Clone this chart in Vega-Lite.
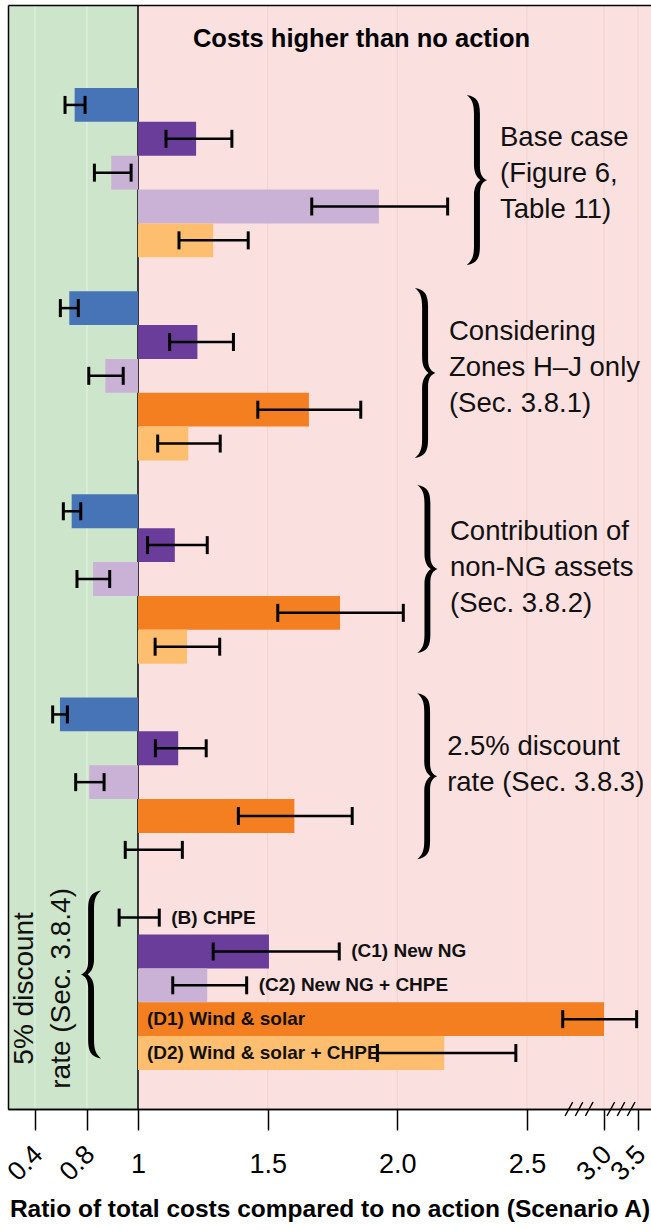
{
  "$schema": "https://vega.github.io/schema/vega-lite/v6.json",
  "width": 643,
  "height": 1104,
  "autosize": {"type": "none"},
  "padding": {"left": 8, "top": 5, "right": 0, "bottom": 121},
  "background": "white",
  "config": {"view": {"stroke": null}, "font": "Liberation Sans"},
  "title": {"text": "Costs higher than no action", "frame": "group", "anchor": "middle", "dx": 32, "offset": -48, "font": "Liberation Sans", "fontSize": 25.5, "fontWeight": "bold", "color": "black"},
  "datasets": {
    "zones": [{"zone": "lower", "from": 0.1923, "to": 1}, {"zone": "higher", "from": 1, "to": 3.691}],
    "gridlines": [{"v": 0.4}, {"v": 0.8}, {"v": 1.5}, {"v": 2.0}, {"v": 2.5}, {"v": 3.0}, {"v": 3.5}],
    "breaks": [{"v": 2.838}, {"v": 3.25}],
    "bars": [
      {"group": "base", "item": "B", "row": "base-B", "value": 0.705, "lo": 0.631, "hi": 0.785},
      {"group": "base", "item": "C1", "row": "base-C1", "value": 1.224, "lo": 1.108, "hi": 1.362},
      {"group": "base", "item": "C2", "row": "base-C2", "value": 0.895, "lo": 0.829, "hi": 0.973},
      {"group": "base", "item": "D1", "row": "base-D1", "value": 1.929, "lo": 1.670, "hi": 2.194},
      {"group": "base", "item": "D2", "row": "base-D2", "value": 1.290, "lo": 1.158, "hi": 1.425},
      {"group": "hj", "item": "B", "row": "hj-B", "value": 0.664, "lo": 0.595, "hi": 0.733},
      {"group": "hj", "item": "C1", "row": "hj-C1", "value": 1.229, "lo": 1.122, "hi": 1.368},
      {"group": "hj", "item": "C2", "row": "hj-C2", "value": 0.872, "lo": 0.807, "hi": 0.942},
      {"group": "hj", "item": "D1", "row": "hj-D1", "value": 1.659, "lo": 1.462, "hi": 1.859},
      {"group": "hj", "item": "D2", "row": "hj-D2", "value": 1.194, "lo": 1.076, "hi": 1.317},
      {"group": "nng", "item": "B", "row": "nng-B", "value": 0.682, "lo": 0.618, "hi": 0.752},
      {"group": "nng", "item": "C1", "row": "nng-C1", "value": 1.142, "lo": 1.037, "hi": 1.267},
      {"group": "nng", "item": "C2", "row": "nng-C2", "value": 0.824, "lo": 0.723, "hi": 0.889},
      {"group": "nng", "item": "D1", "row": "nng-D1", "value": 1.779, "lo": 1.539, "hi": 2.023},
      {"group": "nng", "item": "D2", "row": "nng-D2", "value": 1.189, "lo": 1.066, "hi": 1.315},
      {"group": "d25", "item": "B", "row": "d25-B", "value": 0.592, "lo": 0.536, "hi": 0.649},
      {"group": "d25", "item": "C1", "row": "d25-C1", "value": 1.155, "lo": 1.067, "hi": 1.263},
      {"group": "d25", "item": "C2", "row": "d25-C2", "value": 0.809, "lo": 0.713, "hi": 0.867},
      {"group": "d25", "item": "D1", "row": "d25-D1", "value": 1.603, "lo": 1.387, "hi": 1.826},
      {"group": "d25", "item": "D2", "row": "d25-D2", "value": null, "lo": 0.950, "hi": 1.171},
      {"group": "d5", "item": "B", "row": "d5-B", "value": null, "lo": 0.926, "hi": 1.082, "label": "(B) CHPE"},
      {"group": "d5", "item": "C1", "row": "d5-C1", "value": 1.505, "lo": 1.290, "hi": 1.776, "label": "(C1) New NG"},
      {"group": "d5", "item": "C2", "row": "d5-C2", "value": 1.267, "lo": 1.134, "hi": 1.419, "label": "(C2) New NG + CHPE"},
      {"group": "d5", "item": "D1", "row": "d5-D1", "value": 3.0, "lo": 2.732, "hi": 3.48, "label": "(D1) Wind & solar"},
      {"group": "d5", "item": "D2", "row": "d5-D2", "value": 2.181, "lo": 1.923, "hi": 2.457, "label": "(D2) Wind & solar + CHPE"}
    ],
    "notes": [
      {"group": "base", "row": "base-C2", "text": "Base case\n(Figure 6,\nTable 11)"},
      {"group": "hj", "row": "hj-C2", "text": "Considering\nZones H–J only\n(Sec. 3.8.1)"},
      {"group": "nng", "row": "nng-C2", "text": "Contribution of\nnon-NG assets\n(Sec. 3.8.2)"},
      {"group": "d25", "row": "d25-C2", "text": "2.5% discount\nrate (Sec. 3.8.3)"},
      {"group": "d5", "row": "d5-C2", "text": "5% discount\nrate (Sec. 3.8.4)"}
    ]
  },
  "resolve": {"axis": {"x": "independent"}},
  "layer": [
    {
      "data": {"name": "zones"},
      "mark": {"type": "rect"},
      "encoding": {
        "x": {"field": "from", "type": "quantitative",
          "scale": {"type": "linear", "domain": [0.1923, 0.8, 1, 2.5, 3, 3.691], "range": [0, 79, 130, 519, 596, 643], "nice": false, "zero": false},
          "axis": {"orient": "bottom", "zindex": 1, "values": [1, 1.5, 2, 2.5], "labelExpr": "datum.value == 1 ? '1' : format(datum.value, '.1f')", "labelAngle": 0, "labelBaseline": "top", "labelPadding": 21, "labelFont": "Liberation Sans", "labelFontSize": 27, "labelColor": "black", "labelFlush": false, "labelOverlap": false, "labelBound": false, "grid": false, "domainColor": "black", "domainWidth": 1.5, "tickColor": "black", "tickWidth": 1.5, "tickSize": 21, "title": "Ratio of total costs compared to no action (Scenario A)", "titleFont": "Liberation Sans", "titleFontSize": 24.5, "titleFontWeight": "bold", "titleColor": "black", "titlePadding": 20}},
        "x2": {"field": "to"},
        "fill": {"field": "zone", "type": "nominal", "scale": {"domain": ["lower", "higher"], "range": ["#cde5ca", "#fbe0e0"]}, "legend": null}
      }
    },
    {
      "data": {"name": "gridlines"},
      "mark": {"type": "rule", "strokeWidth": 1},
      "encoding": {
        "x": {"field": "v", "type": "quantitative",
          "scale": {"type": "linear", "domain": [0.1923, 0.8, 1, 2.5, 3, 3.691], "range": [0, 79, 130, 519, 596, 643], "nice": false, "zero": false},
          "axis": {"orient": "bottom", "zindex": 1, "values": [0.4, 0.8, 3, 3.5], "labelExpr": "format(datum.value, '.1f')", "labelAngle": -45, "labelAlign": "center", "labelBaseline": "middle", "labelPadding": 33, "labelOffset": -10, "labelFont": "Liberation Sans", "labelFontSize": 26.5, "labelColor": "black", "labelFlush": false, "labelOverlap": false, "labelBound": false, "grid": false, "domainColor": "black", "domainWidth": 1.5, "tickColor": "black", "tickWidth": 1.5, "tickSize": 21, "title": null}},
        "color": {"condition": {"test": "datum.v < 1", "value": "#e6f1e4"}, "value": "#f0d3ce"}
      }
    },
    {
      "data": {"values": [{}]},
      "mark": {"type": "rule", "color": "black", "strokeWidth": 1.5},
      "encoding": {
        "x": {"datum": 1, "type": "quantitative",
          "scale": {"type": "linear", "domain": [0.1923, 0.8, 1, 2.5, 3, 3.691], "range": [0, 79, 130, 519, 596, 643], "nice": false, "zero": false},
          "axis": {"orient": "top", "zindex": 1, "labels": false, "ticks": false, "grid": false, "domainColor": "black", "domainWidth": 1.5, "title": null}}
      }
    },
    {
      "data": {"name": "bars"},
      "encoding": {
        "y": {"field": "row", "type": "nominal", "title": null,
          "scale": {"type": "band", "domain": ["top1", "top2", "base-B", "base-C1", "base-C2", "base-D1", "base-D2", "gap1", "hj-B", "hj-C1", "hj-C2", "hj-D1", "hj-D2", "gap2", "nng-B", "nng-C1", "nng-C2", "nng-D1", "nng-D2", "gap3", "d25-B", "d25-C1", "d25-C2", "d25-D1", "d25-D2", "gap4", "d5-B", "d5-C1", "d5-C2", "d5-D1", "d5-D2", "bot1"], "paddingInner": 0, "paddingOuter": 0.302, "align": 0.747},
          "axis": {"zindex": 1, "labels": false, "ticks": false, "grid": false, "domainColor": "black", "domainWidth": 1.5, "title": null}}
      },
      "layer": [
        {
          "mark": {"type": "bar"},
          "encoding": {
            "x": {"field": "value", "type": "quantitative",
              "scale": {"type": "linear", "domain": [0.1923, 0.8, 1, 2.5, 3, 3.691], "range": [0, 79, 130, 519, 596, 643], "nice": false, "zero": false}, "axis": null},
            "x2": {"datum": 1},
            "color": {"condition": {"test": "datum.row === 'base-D1'", "value": "#cab2d6"}, "field": "item", "type": "nominal", "scale": {"domain": ["B", "C1", "C2", "D1", "D2"], "range": ["#4674b6", "#6a3d9a", "#cab2d6", "#f47f20", "#fdbf6f"]}, "legend": null}
          }
        },
        {
          "mark": {"type": "rule", "color": "black", "strokeWidth": 2.5},
          "encoding": {
            "x": {"field": "lo", "type": "quantitative",
              "scale": {"type": "linear", "domain": [0.1923, 0.8, 1, 2.5, 3, 3.691], "range": [0, 79, 130, 519, 596, 643], "nice": false, "zero": false}, "axis": null},
            "x2": {"field": "hi"}
          }
        },
        {
          "mark": {"type": "tick", "color": "black", "thickness": 3, "size": 18, "opacity": 1},
          "encoding": {
            "x": {"field": "lo", "type": "quantitative",
              "scale": {"type": "linear", "domain": [0.1923, 0.8, 1, 2.5, 3, 3.691], "range": [0, 79, 130, 519, 596, 643], "nice": false, "zero": false}, "axis": null}
          }
        },
        {
          "mark": {"type": "tick", "color": "black", "thickness": 3, "size": 18, "opacity": 1},
          "encoding": {
            "x": {"field": "hi", "type": "quantitative",
              "scale": {"type": "linear", "domain": [0.1923, 0.8, 1, 2.5, 3, 3.691], "range": [0, 79, 130, 519, 596, 643], "nice": false, "zero": false}, "axis": null}
          }
        },
        {
          "transform": [{"filter": "datum.group === 'd5' && (datum.item === 'B' || datum.item === 'C1' || datum.item === 'C2')"}],
          "mark": {"type": "text", "align": "left", "baseline": "middle", "dx": 12, "font": "Liberation Sans", "fontSize": 19, "letterSpacing": -0.5, "fontWeight": "bold", "color": "#111111"},
          "encoding": {
            "x": {"field": "hi", "type": "quantitative",
              "scale": {"type": "linear", "domain": [0.1923, 0.8, 1, 2.5, 3, 3.691], "range": [0, 79, 130, 519, 596, 643], "nice": false, "zero": false}, "axis": null},
            "text": {"field": "label"}
          }
        },
        {
          "transform": [{"filter": "datum.group === 'd5' && (datum.item === 'D1' || datum.item === 'D2')"}],
          "mark": {"type": "text", "align": "left", "baseline": "middle", "dx": 9, "font": "Liberation Sans", "fontSize": 19, "letterSpacing": -0.5, "fontWeight": "bold", "color": "#111111"},
          "encoding": {
            "x": {"datum": 1, "type": "quantitative",
              "scale": {"type": "linear", "domain": [0.1923, 0.8, 1, 2.5, 3, 3.691], "range": [0, 79, 130, 519, 596, 643], "nice": false, "zero": false}, "axis": null},
            "text": {"field": "label"}
          }
        },
        {
          "data": {"name": "notes"},
          "transform": [{"filter": "datum.group === 'base'"}],
          "mark": {"type": "text", "align": "left", "baseline": "middle", "lineBreak": "\n", "lineHeight": 36, "fontSize": 27.5, "font": "Liberation Sans", "color": "#111111"},
          "encoding": {
            "x": {"datum": 2.396, "type": "quantitative", "scale": {"type": "linear", "domain": [0.1923, 0.8, 1, 2.5, 3, 3.691], "range": [0, 79, 130, 519, 596, 643], "nice": false, "zero": false}, "axis": null},
            "yOffset": {"value": -17.7},
            "text": {"field": "text"}
          }
        },
        {
          "data": {"name": "notes"},
          "transform": [{"filter": "datum.group === 'base'"}],
          "mark": {"type": "point", "shape": "M -0.12 -1 C 0 -0.98 0.035 -0.92 0.035 -0.78 L 0.035 -0.16 C 0.035 -0.06 0.07 -0.02 0.12 0 C 0.07 0.02 0.035 0.06 0.035 0.16 L 0.035 0.78 C 0.035 0.92 0 0.98 -0.12 1 C -0.06 0.95 -0.035 0.9 -0.035 0.78 L -0.035 0.18 C -0.035 0.08 0 0.03 0.04 0 C 0 -0.03 -0.035 -0.08 -0.035 -0.18 L -0.035 -0.78 C -0.035 -0.9 -0.06 -0.95 -0.12 -1 Z", "size": 28900, "filled": true, "color": "black", "opacity": 1},
          "encoding": {
            "x": {"datum": 2.307, "type": "quantitative", "scale": {"type": "linear", "domain": [0.1923, 0.8, 1, 2.5, 3, 3.691], "range": [0, 79, 130, 519, 596, 643], "nice": false, "zero": false}, "axis": null},
            "yOffset": {"value": 24.3}
          }
        },
        {
          "data": {"name": "notes"},
          "transform": [{"filter": "datum.group === 'hj'"}],
          "mark": {"type": "text", "align": "left", "baseline": "middle", "lineBreak": "\n", "lineHeight": 36, "fontSize": 27.5, "font": "Liberation Sans", "color": "#111111"},
          "encoding": {
            "x": {"datum": 2.199, "type": "quantitative", "scale": {"type": "linear", "domain": [0.1923, 0.8, 1, 2.5, 3, 3.691], "range": [0, 79, 130, 519, 596, 643], "nice": false, "zero": false}, "axis": null},
            "yOffset": {"value": -27},
            "text": {"field": "text"}
          }
        },
        {
          "data": {"name": "notes"},
          "transform": [{"filter": "datum.group === 'hj'"}],
          "mark": {"type": "point", "shape": "M -0.12 -1 C 0 -0.98 0.035 -0.92 0.035 -0.78 L 0.035 -0.16 C 0.035 -0.06 0.07 -0.02 0.12 0 C 0.07 0.02 0.035 0.06 0.035 0.16 L 0.035 0.78 C 0.035 0.92 0 0.98 -0.12 1 C -0.06 0.95 -0.035 0.9 -0.035 0.78 L -0.035 0.18 C -0.035 0.08 0 0.03 0.04 0 C 0 -0.03 -0.035 -0.08 -0.035 -0.18 L -0.035 -0.78 C -0.035 -0.9 -0.06 -0.95 -0.12 -1 Z", "size": 28900, "filled": true, "color": "black", "opacity": 1},
          "encoding": {
            "x": {"datum": 2.107, "type": "quantitative", "scale": {"type": "linear", "domain": [0.1923, 0.8, 1, 2.5, 3, 3.691], "range": [0, 79, 130, 519, 596, 643], "nice": false, "zero": false}, "axis": null},
            "yOffset": {"value": 14}
          }
        },
        {
          "data": {"name": "notes"},
          "transform": [{"filter": "datum.group === 'nng'"}],
          "mark": {"type": "text", "align": "left", "baseline": "middle", "lineBreak": "\n", "lineHeight": 36, "fontSize": 27.5, "font": "Liberation Sans", "color": "#111111"},
          "encoding": {
            "x": {"datum": 2.203, "type": "quantitative", "scale": {"type": "linear", "domain": [0.1923, 0.8, 1, 2.5, 3, 3.691], "range": [0, 79, 130, 519, 596, 643], "nice": false, "zero": false}, "axis": null},
            "yOffset": {"value": -30},
            "text": {"field": "text"}
          }
        },
        {
          "data": {"name": "notes"},
          "transform": [{"filter": "datum.group === 'nng'"}],
          "mark": {"type": "point", "shape": "M -0.12 -1 C 0 -0.98 0.035 -0.92 0.035 -0.78 L 0.035 -0.16 C 0.035 -0.06 0.07 -0.02 0.12 0 C 0.07 0.02 0.035 0.06 0.035 0.16 L 0.035 0.78 C 0.035 0.92 0 0.98 -0.12 1 C -0.06 0.95 -0.035 0.9 -0.035 0.78 L -0.035 0.18 C -0.035 0.08 0 0.03 0.04 0 C 0 -0.03 -0.035 -0.08 -0.035 -0.18 L -0.035 -0.78 C -0.035 -0.9 -0.06 -0.95 -0.12 -1 Z", "size": 28224, "filled": true, "color": "black", "opacity": 1},
          "encoding": {
            "x": {"datum": 2.116, "type": "quantitative", "scale": {"type": "linear", "domain": [0.1923, 0.8, 1, 2.5, 3, 3.691], "range": [0, 79, 130, 519, 596, 643], "nice": false, "zero": false}, "axis": null},
            "yOffset": {"value": 7}
          }
        },
        {
          "data": {"name": "notes"},
          "transform": [{"filter": "datum.group === 'd25'"}],
          "mark": {"type": "text", "align": "left", "baseline": "middle", "lineBreak": "\n", "lineHeight": 36, "fontSize": 27.5, "font": "Liberation Sans", "color": "#111111"},
          "encoding": {
            "x": {"datum": 2.192, "type": "quantitative", "scale": {"type": "linear", "domain": [0.1923, 0.8, 1, 2.5, 3, 3.691], "range": [0, 79, 130, 519, 596, 643], "nice": false, "zero": false}, "axis": null},
            "yOffset": {"value": -18},
            "text": {"field": "text"}
          }
        },
        {
          "data": {"name": "notes"},
          "transform": [{"filter": "datum.group === 'd25'"}],
          "mark": {"type": "point", "shape": "M -0.12 -1 C 0 -0.98 0.035 -0.92 0.035 -0.78 L 0.035 -0.16 C 0.035 -0.06 0.07 -0.02 0.12 0 C 0.07 0.02 0.035 0.06 0.035 0.16 L 0.035 0.78 C 0.035 0.92 0 0.98 -0.12 1 C -0.06 0.95 -0.035 0.9 -0.035 0.78 L -0.035 0.18 C -0.035 0.08 0 0.03 0.04 0 C 0 -0.03 -0.035 -0.08 -0.035 -0.18 L -0.035 -0.78 C -0.035 -0.9 -0.06 -0.95 -0.12 -1 Z", "size": 27556, "filled": true, "color": "black", "opacity": 1},
          "encoding": {
            "x": {"datum": 2.115, "type": "quantitative", "scale": {"type": "linear", "domain": [0.1923, 0.8, 1, 2.5, 3, 3.691], "range": [0, 79, 130, 519, 596, 643], "nice": false, "zero": false}, "axis": null},
            "yOffset": {"value": 11}
          }
        },
        {
          "data": {"name": "notes"},
          "transform": [{"filter": "datum.group === 'd5'"}],
          "mark": {"type": "text", "align": "center", "baseline": "middle", "angle": 270, "lineBreak": "\n", "lineHeight": 37, "fontSize": 28, "font": "Liberation Sans", "color": "#111111"},
          "encoding": {
            "x": {"datum": 0.323, "type": "quantitative", "scale": {"type": "linear", "domain": [0.1923, 0.8, 1, 2.5, 3, 3.691], "range": [0, 79, 130, 519, 596, 643], "nice": false, "zero": false}, "axis": null},
            "yOffset": {"value": 20},
            "text": {"field": "text"}
          }
        },
        {
          "data": {"name": "notes"},
          "transform": [{"filter": "datum.group === 'd5'"}],
          "mark": {"type": "point", "shape": "M 0.12 -1 C 0 -0.98 -0.035 -0.92 -0.035 -0.78 L -0.035 -0.16 C -0.035 -0.06 -0.07 -0.02 -0.12 0 C -0.07 0.02 -0.035 0.06 -0.035 0.16 L -0.035 0.78 C -0.035 0.92 0 0.98 0.12 1 C 0.06 0.95 0.035 0.9 0.035 0.78 L 0.035 0.18 C 0.035 0.08 0 0.03 -0.04 0 C 0 -0.03 0.035 -0.08 0.035 -0.18 L 0.035 -0.78 C 0.035 -0.9 0.06 -0.95 0.12 -1 Z", "size": 28224, "filled": true, "color": "black", "opacity": 1},
          "encoding": {
            "x": {"datum": 0.816, "type": "quantitative", "scale": {"type": "linear", "domain": [0.1923, 0.8, 1, 2.5, 3, 3.691], "range": [0, 79, 130, 519, 596, 643], "nice": false, "zero": false}, "axis": null},
            "yOffset": {"value": 6}
          }
        }
      ]
    },
    {
      "data": {"name": "breaks"},
      "mark": {"type": "point", "shape": "M -1 0.5 L -0.45 -0.5 M -0.27 0.5 L 0.27 -0.5 M 0.45 0.5 L 1 -0.5", "size": 784, "filled": false, "stroke": "black", "strokeWidth": 1.5, "opacity": 1},
      "encoding": {
        "x": {"field": "v", "type": "quantitative", "scale": {"type": "linear", "domain": [0.1923, 0.8, 1, 2.5, 3, 3.691], "range": [0, 79, 130, 519, 596, 643], "nice": false, "zero": false}, "axis": null},
        "y": {"value": "height"}
      }
    }
  ]
}
